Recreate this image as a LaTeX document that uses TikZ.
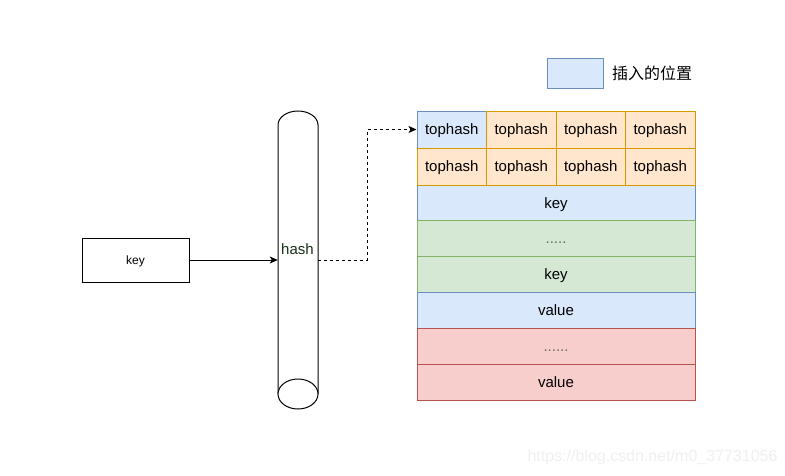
\documentclass[tikz,border=0pt]{standalone}
\usepackage{fontspec}
\setmainfont{Liberation Sans}
\newfontfamily\cjk{Noto Sans CJK SC}
\usetikzlibrary{arrows.meta}
\definecolor{bfill}{HTML}{DAE8FC}\definecolor{bline}{HTML}{6C8EBF}
\definecolor{ofill}{HTML}{FFE6CC}\definecolor{oline}{HTML}{D79B00}
\definecolor{gfill}{HTML}{D5E8D4}\definecolor{gline}{HTML}{82B366}
\definecolor{rfill}{HTML}{F8CECC}\definecolor{rline}{HTML}{B85450}
\definecolor{hashtxt}{HTML}{1A2E1A}
\tikzset{
  cell/.style={draw, line width=1pt, minimum width=69.5pt, minimum height=37pt, inner sep=0pt, text height=12pt, text depth=2pt, anchor=center, font=\fontsize{15}{18}\selectfont},
  wide/.style={draw, line width=1pt, minimum width=278pt, minimum height=35.83pt, inner sep=0pt, text height=12pt, text depth=2pt, anchor=center, font=\fontsize{15}{18}\selectfont},
  bluec/.style={fill=bfill, draw=bline},
  orangec/.style={fill=ofill, draw=oline},
  greenc/.style={fill=gfill, draw=gline},
  redc/.style={fill=rfill, draw=rline},
  dots/.style={text=black!60},
  conn/.style={line width=1pt, -{Stealth[length=8pt,width=7pt,inset=2pt]}},
}
\begin{document}
\begin{tikzpicture}[x=1pt,y=-1pt]
\useasboundingbox[fill=white] (0,0) rectangle (785,475);
% legend
\node[bluec, draw, line width=1pt, minimum width=56pt, minimum height=30pt, inner sep=0pt] (leg) at (575,73) {};
\node[font=\cjk\fontsize{16}{18}\selectfont, anchor=west, inner sep=0pt] (legt) at (612,73) {插入的位置};
% key box
\node[draw, line width=1pt, minimum width=107pt, minimum height=44pt, inner sep=0pt, text height=9.5pt, text depth=1.5pt, font=\fontsize{12}{14}\selectfont] (key) at (135.5,260) {key};
% cylinder
\node[minimum width=40pt, minimum height=298pt, inner sep=0pt] (cyl) at (298,260) {};
\draw[line width=1pt, fill=white] (278,394) -- (278,125) .. controls (278,117.27) and (286.95,111) .. (298,111) .. controls (309.05,111) and (318,117.27) .. (318,125) -- (318,394);
\draw[line width=1pt, fill=white] (298,394) ellipse [x radius=20pt, y radius=15pt];
\node[font=\fontsize{15}{18}\selectfont, text=hashtxt, inner sep=0pt, text height=12pt, text depth=2pt] (hash) at (297.5,249) {hash};
% lower rows
\node[wide, bluec] (k1) at (556,203) {key};
\node[wide, greenc, dots] (d1) at (556,238.83) {.....};
\node[wide, greenc] (k2) at (556,274.66) {key};
\node[wide, bluec] (v1) at (556,310.49) {value};
\node[wide, redc, dots] (d2) at (556,346.32) {......};
\node[wide, redc] (v2) at (556,382.15) {value};
% tophash rows
\node[cell, bluec] (c11) at (451.75,129.5) {tophash};
\node[cell, orangec] (c12) at (521.25,129.5) {tophash};
\node[cell, orangec] (c13) at (590.75,129.5) {tophash};
\node[cell, orangec] (c14) at (660.25,129.5) {tophash};
\node[cell, orangec] (c21) at (451.75,166.5) {tophash};
\node[cell, orangec] (c22) at (521.25,166.5) {tophash};
\node[cell, orangec] (c23) at (590.75,166.5) {tophash};
\node[cell, orangec] (c24) at (660.25,166.5) {tophash};
% connectors
\draw[conn] (key.east) -- (cyl.west);
\draw[conn, dash pattern=on 3pt off 3pt] (cyl.east) -- ++(49,0) |- (c11.west);
% watermark
\node[font=\fontsize{16}{18}\selectfont, text=black!6, inner sep=0pt] (wm) at (652.5,457) {https://blog.csdn.net/m0\_37731056};
\end{tikzpicture}
\end{document}
